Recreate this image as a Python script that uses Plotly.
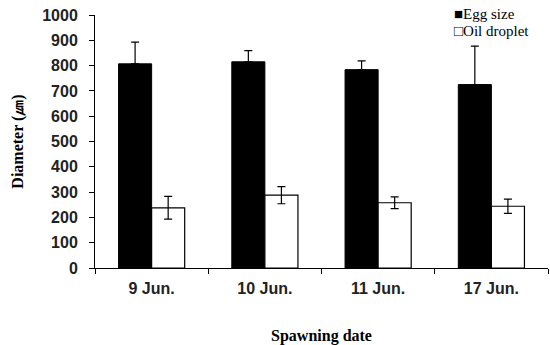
import plotly.graph_objects as go

dates = ["9 Jun.", "10 Jun.", "11 Jun.", "17 Jun."]
egg_size = [807, 815, 784, 725]
egg_err = [86, 44, 35, 152]
oil_droplet = [238, 288, 258, 244]
oil_err = [45, 34, 23, 28]
y_ticks = [0, 100, 200, 300, 400, 500, 600, 700, 800, 900, 1000]

fig = go.Figure()
fig.add_trace(go.Bar(
    x=dates, y=egg_size, name="Egg size",
    marker=dict(color="black", line=dict(color="black", width=1)),
    error_y=dict(type="data", array=egg_err, arrayminus=[0]*len(egg_err),
                 symmetric=False, color="black", thickness=1.2, width=4),
))
fig.add_trace(go.Bar(
    x=dates, y=oil_droplet, name="Oil droplet",
    marker=dict(color="white", line=dict(color="black", width=1.2)),
    error_y=dict(type="data", array=oil_err, color="black", thickness=1.2, width=4),
))

tick_font = dict(family="Liberation Sans, Arial", size=16, color="#222", weight="bold")
title_font = dict(family="Liberation Serif, Times New Roman", size=16, color="black", weight="bold")

fig.update_layout(
    width=550, height=345,
    margin=dict(l=95, r=2, t=15, b=77),
    paper_bgcolor="white", plot_bgcolor="white",
    barmode="group", bargap=0.416, bargroupgap=0,
    showlegend=False,
    font=dict(family="Liberation Sans, Arial", color="black"),
)
fig.update_xaxes(
    showline=True, linecolor="black", linewidth=1,
    ticks="outside", tickson="boundaries", ticklen=5, tickcolor="black",
    tickfont=tick_font, ticklabelstandoff=6,
    title=dict(text="Spawning date", standoff=34, font=title_font),
    showgrid=False,
)
fig.update_yaxes(
    range=[0, 1000], tickvals=y_ticks, showline=True, linecolor="black", linewidth=1,
    ticks="outside", ticklen=5, tickcolor="black",
    tickfont=tick_font, ticklabelstandoff=8,
    title=dict(text="Diameter (㎛)", standoff=14, font=title_font),
    showgrid=False, zeroline=False,
)

legend_font = dict(family="Liberation Serif, Times New Roman", size=15, color="black")
fig.add_annotation(xref="paper", yref="paper", x=(452-95)/453, y=1-(14-15)/252.7,
                   text="■Egg size", showarrow=False, xanchor="left", yanchor="middle",
                   font=legend_font)
fig.add_annotation(xref="paper", yref="paper", x=(452-95)/453, y=1-(31-15)/252.7,
                   text="□Oil droplet", showarrow=False, xanchor="left", yanchor="middle",
                   font=legend_font)

fig.write_html("out.html")
